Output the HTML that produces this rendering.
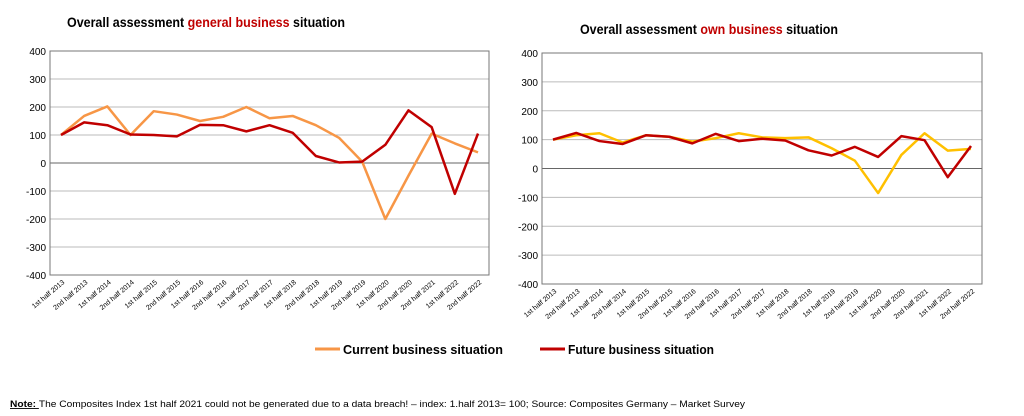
<!DOCTYPE html>
<html><head><meta charset="utf-8"><style>
body{margin:0;background:#fff;width:1024px;height:416px;overflow:hidden;font-family:"Liberation Sans",sans-serif}
svg{position:absolute;left:0;top:0}
</style></head><body>
<svg width="1024" height="416" id="svg">
<text x="67" y="27" font-size="14" font-weight="bold" textLength="278" lengthAdjust="spacingAndGlyphs">Overall assessment <tspan fill="#c00000">general business</tspan> situation</text>
<text x="580" y="34" font-size="14" font-weight="bold" textLength="258" lengthAdjust="spacingAndGlyphs">Overall assessment <tspan fill="#c00000">own business</tspan> situation</text>
<g id="left"></g>
<g id="right"></g>
<line x1="315" y1="349" x2="340" y2="349" stroke="#f79646" stroke-width="3"/>
<text x="343" y="354" font-size="13" font-weight="bold" textLength="160" lengthAdjust="spacingAndGlyphs">Current business situation</text>
<line x1="540" y1="349" x2="565" y2="349" stroke="#c00000" stroke-width="3"/>
<text x="568" y="354" font-size="13" font-weight="bold" textLength="146" lengthAdjust="spacingAndGlyphs">Future business situation</text>
<text x="10" y="407" font-size="9" textLength="735" lengthAdjust="spacingAndGlyphs"><tspan font-weight="bold" text-decoration="underline">Note: </tspan>The Composites Index 1st half  2021 could not be generated due to a data breach! – index: 1.half 2013= 100; Source: Composites Germany – Market Survey</text>
</svg>
<script>
const categories=["1st half 2013","2nd half 2013","1st half 2014","2nd half 2014","1st half 2015","2nd half 2015","1st half 2016","2nd half 2016","1st half 2017","2nd half 2017","1st half 2018","2nd half 2018","1st half 2019","2nd half 2019","1st half 2020","2nd half 2020","2nd half 2021","1st half 2022","2nd half 2022"];
const yTicks=[400,300,200,100,0,-100,-200,-300,-400];
const generalCurrent=[100,168,202,100,185,173,150,165,200,160,168,135,90,5,-200,-45,105,70,38];
const generalFuture=[100,145,135,102,100,95,136,135,113,135,108,25,2,5,65,188,128,-110,105];
const ownCurrent=[100,115,122,90,115,110,93,105,122,108,105,108,70,27,-85,47,122,62,68];
const ownFuture=[100,123,95,85,115,110,87,120,95,103,97,63,45,75,40,112,98,-30,78];
const NS="http://www.w3.org/2000/svg";
function mk(t,a,p){const e=document.createElementNS(NS,t);for(const k in a)e.setAttribute(k,a[k]);p.appendChild(e);return e;}
function chart(g,L,R,T,B,x0,x1,cur,fut,curColor){
  const y=v=>T+(400-v)/800*(B-T);
  const x=i=>x0+i*(x1-x0)/(categories.length-1);
  yTicks.forEach(v=>{
    const l=mk('line',{x1:L,x2:R,y1:y(v),y2:y(v),stroke:v===0?'#666':'#bbb','stroke-width':1},g);
    
    
    const t=mk('text',{x:L-4,y:y(v)+4,'font-size':10,'text-anchor':'end'},g);t.textContent=v;
    
    
  });
  const f=mk('rect',{x:L,y:T,width:R-L,height:B-T,fill:'none',stroke:'#777'},g);
  
  
  categories.forEach((c,i)=>{
    const t=mk('text',{transform:`translate(${x(i)+4},${B+8}) rotate(-40)`,'font-size':7,'text-anchor':'end'},g);t.textContent=c;
    
    
  });
  [[cur,curColor,'current-line'],[fut,'#c00000','future-line']].forEach(([d,c,n])=>{
    const p=mk('polyline',{points:d.map((v,i)=>x(i)+','+y(v)).join(' '),fill:'none',stroke:c,'stroke-width':2.5,'stroke-linejoin':'round'},g);
    
    
  });
}
chart(document.getElementById('left'),50,489,51,275,61,478,generalCurrent,generalFuture,'#f79646');
chart(document.getElementById('right'),542,982,53,284,553,971,ownCurrent,ownFuture,'#ffc000');
</script>
</body></html>
